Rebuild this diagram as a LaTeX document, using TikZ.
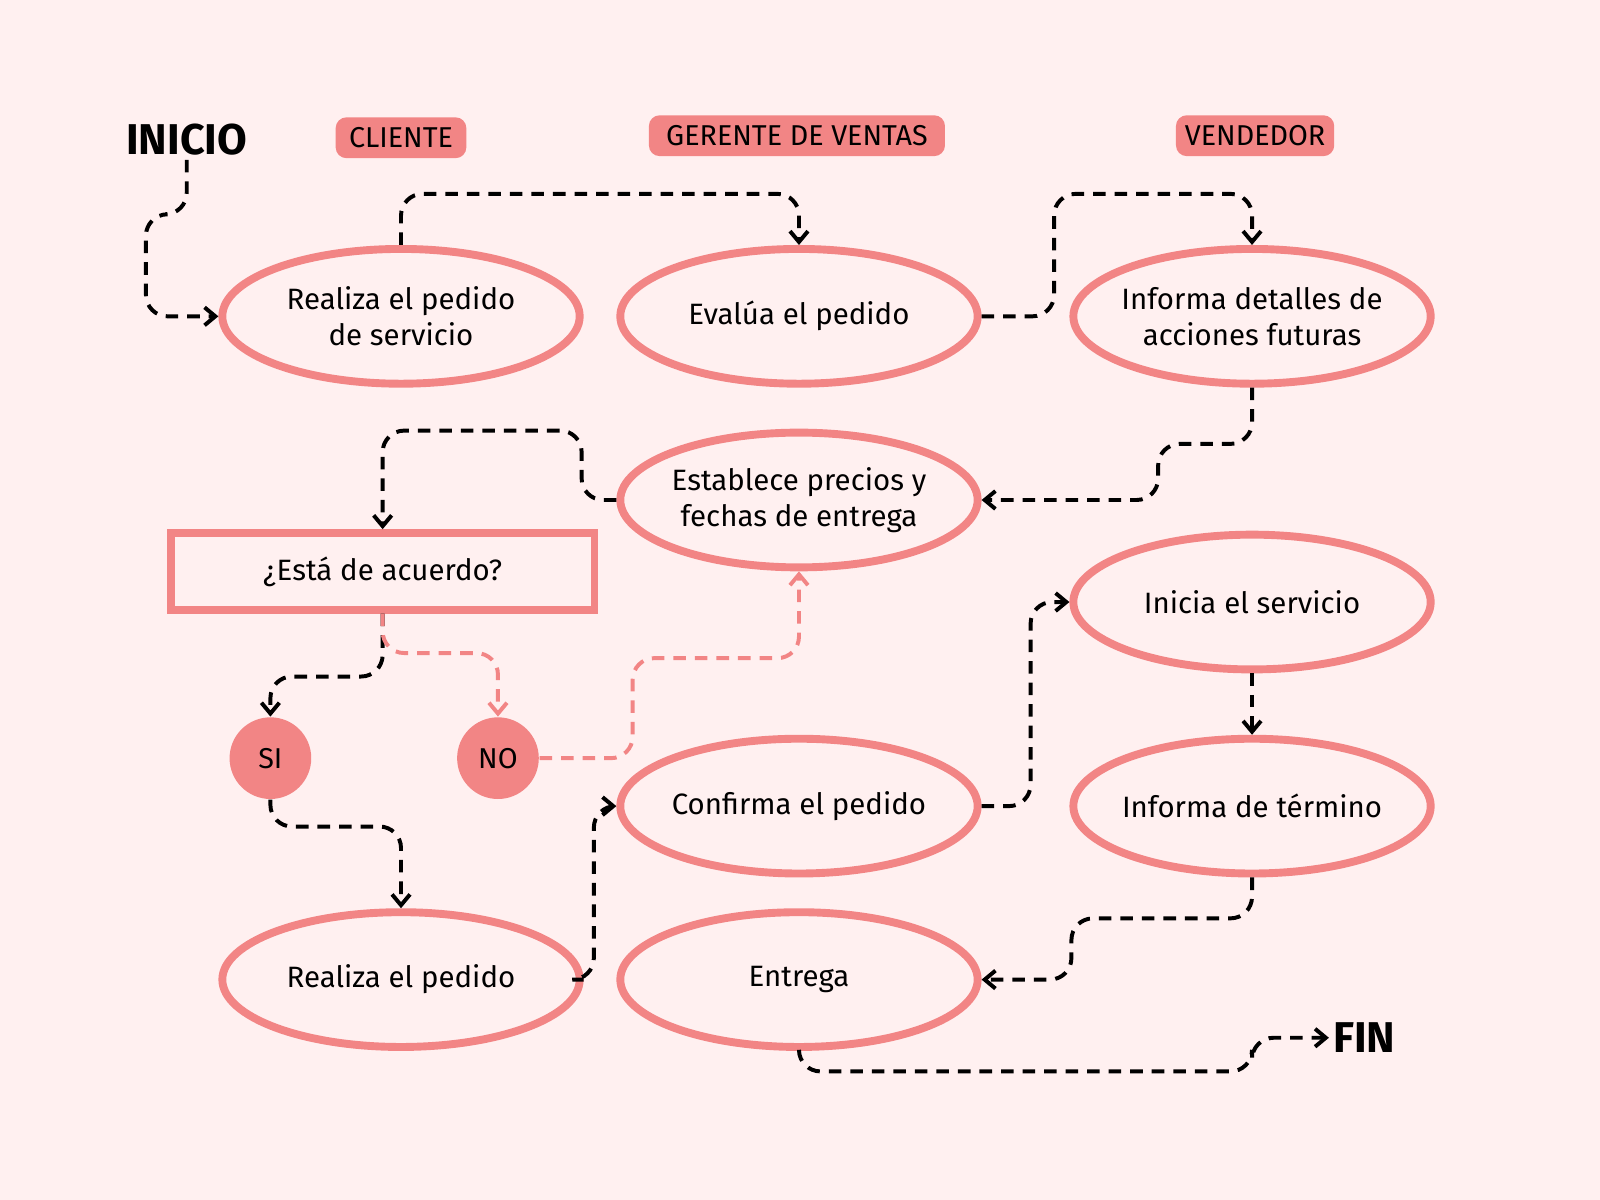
\documentclass[tikz,border=0pt]{standalone}
\usepackage{fontspec}
\setmainfont{Fira Sans}
\usetikzlibrary{shapes.geometric, calc, arrows.meta, positioning}
\definecolor{fondo}{HTML}{FFF0F0}
\definecolor{rosa}{HTML}{F28585}

\begin{document}
\begin{tikzpicture}[x=0.01cm,y=-0.01cm,
    paso/.style={ellipse, draw=rosa, line width=2.2pt, inner sep=-2pt, minimum width=3.5cm, minimum height=1.32cm, align=center, font=\fontsize{8.2}{10}\selectfont},
    rol/.style={fill=rosa, rounded corners=3pt, inner sep=0pt, minimum height=0.4cm, font=\fontsize{8}{10}\selectfont},
    opcion/.style={circle, fill=rosa, inner sep=0pt, minimum size=0.8cm, font=\fontsize{8}{10}\selectfont},
    flecha/.style={dash pattern=on 3.5pt off 2.5pt, line width=1.1pt, rounded corners=6pt, -{Straight Barb[length=3pt,width=5pt]}},
    flecharosa/.style={flecha, draw=rosa}]
    \fill[fondo] (0,0) rectangle (1568,1176);
    \useasboundingbox (0,0) rectangle (1568,1176);

    % titulos
    \node[font=\fontsize{12}{14}\selectfont\bfseries, inner sep=1pt] (inicio) at (183,137) {INICIO};
    \node[font=\fontsize{12}{14}\selectfont\bfseries, inner sep=1pt] (fin) at (1337,1017) {FIN};
    \node[rol, minimum width=1.28cm] (cliente) at (393,135) {CLIENTE};
    \node[rol, minimum width=2.9cm] (gerente) at (781,133) {GERENTE DE VENTAS};
    \node[rol, minimum width=1.55cm] (vendedor) at (1230,133) {VENDEDOR};

    % pasos
    \node[paso] (pedido) at (393,310) {Realiza el pedido\\de servicio};
    \node[paso] (evalua) at (783,310) {Evalúa el pedido};
    \node[paso] (informa) at (1227,310) {Informa detalles de\\acciones futuras};
    \node[paso] (precios) at (783,490) {Establece precios y\\fechas de entrega};
    \node[draw=rosa, line width=2.2pt, minimum width=4.15cm, minimum height=0.75cm, font=\fontsize{8.2}{10}\selectfont] (acuerdo) at (375,560) {¿Está de acuerdo?};
    \node[opcion] (si) at (265,743) {SI};
    \node[opcion] (no) at (488,743) {NO};
    \node[paso] (inicia) at (1227,590) {Inicia el servicio};
    \node[paso] (confirma) at (783,790) {Confirma el pedido};
    \node[paso] (termino) at (1227,790) {Informa de término};
    \node[paso] (realiza) at (393,960) {Realiza el pedido};
    \node[paso] (entrega) at (783,960) {Entrega};

    % conexiones
    \draw[flecha] (inicio.south) |- (143,210) |- (pedido.west);
    \draw[flecha] (pedido.north) |- (588,190) -| (evalua.north);
    \draw[flecha] (evalua.east) -| (1033,250) |- (1130,190) -| (informa.north);
    \draw[flecha] (informa.south) |- (1135,435) |- (precios.east);
    \draw[flecha] (precios.west) -| (570,422) -| (acuerdo.north);
    \draw[flecha] (acuerdo.south) |- (320,663) -| (si.north);
    \draw[flecharosa] (acuerdo.south) |- (430,640) -| (no.north);
    \draw[flecharosa] (no.east) -| (620,645) -| (precios.south);
    \draw[flecha] (si.south) |- (330,810) -| (realiza.north);
    \draw[flecha] (realiza.east) -- ++(10,0) |- (confirma.west);
    \draw[flecha] (confirma.east) -| (1010,590) -- (inicia.west);
    \draw[flecha] (inicia.south) -- (termino.north);
    \draw[flecha] (termino.south) |- (1050,900) |- (entrega.east);
    \draw[flecha] (entrega.south) |- (1227,1050) |- (fin.west);
\end{tikzpicture}
\end{document}
